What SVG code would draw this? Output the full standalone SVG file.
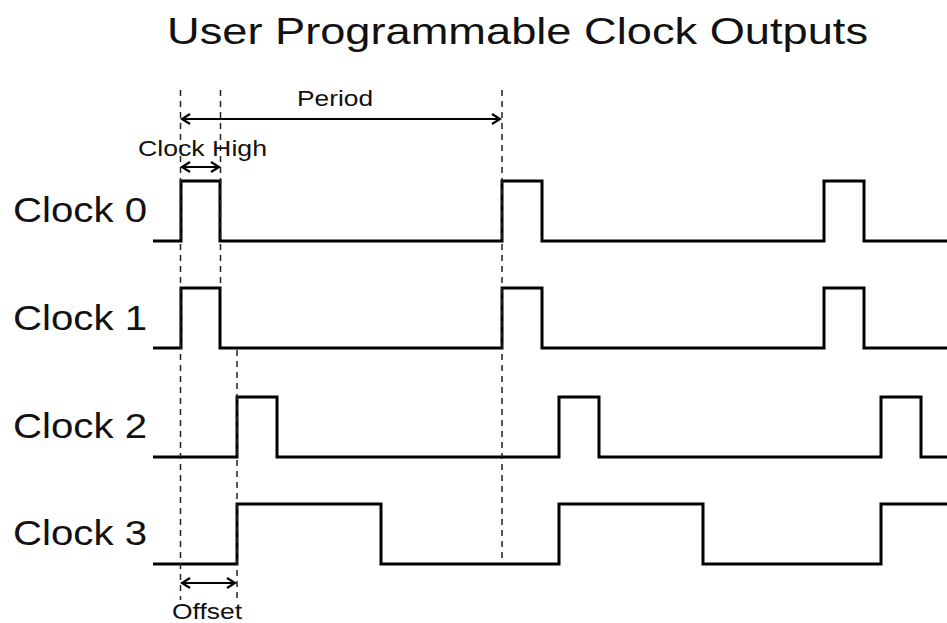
<svg xmlns="http://www.w3.org/2000/svg" width="947" height="623" viewBox="0 0 947 623">
<style>
text{font-family:"Liberation Sans",Arial,sans-serif;fill:#111}
.wave{fill:none;stroke:#000;stroke-width:3;stroke-linejoin:miter}
.dash{stroke:#222;stroke-width:1.5;stroke-dasharray:6 5;fill:none}
.dim{stroke:#000;stroke-width:2.2;fill:none;marker-start:url(#ah);marker-end:url(#ah)}
.lbl{font-size:35px}
.small{font-size:22px}
</style>
<defs>
<marker id="ah" viewBox="-12 -7 14 14" refX="0" refY="0" markerWidth="14" markerHeight="14" markerUnits="userSpaceOnUse" orient="auto-start-reverse">
<path d="M-8,-5 L0,0 L-8,5" fill="none" stroke="#000" stroke-width="2.2"/>
</marker>
</defs>
<rect width="947" height="623" fill="#fff"/>
<text id="title" x="167" y="44" font-size="37" textLength="701" lengthAdjust="spacingAndGlyphs">User Programmable Clock Outputs</text>
<g id="clock0">
<text class="lbl" x="13" y="222" textLength="134" lengthAdjust="spacingAndGlyphs">Clock 0</text>
<path class="wave" d="M153,241 H181 V181 H220 V241 H502 V181 H542 V241 H824 V181 H864 V241 H947"/>
</g>
<g id="clock1">
<text class="lbl" x="13" y="330" textLength="134" lengthAdjust="spacingAndGlyphs">Clock 1</text>
<path class="wave" d="M153,348 H181 V288 H220 V348 H502 V288 H542 V348 H824 V288 H864 V348 H947"/>
</g>
<g id="clock2">
<text class="lbl" x="13" y="438" textLength="134" lengthAdjust="spacingAndGlyphs">Clock 2</text>
<path class="wave" d="M153,457 H237 V397 H277 V457 H559 V397 H599 V457 H881 V397 H921 V457 H947"/>
</g>
<g id="clock3">
<text class="lbl" x="13" y="545" textLength="134" lengthAdjust="spacingAndGlyphs">Clock 3</text>
<path class="wave" d="M153,564 H237 V504 H381 V564 H559 V504 H703 V564 H881 V504 H947"/>
</g>
<g id="connectors">
<line class="dash" x1="180.5" y1="90" x2="180.5" y2="600"/>
<line class="dash" x1="220.5" y1="90" x2="220.5" y2="288"/>
<line class="dash" x1="237" y1="350" x2="237" y2="600"/>
<line class="dash" x1="502" y1="90" x2="502" y2="562"/>
<line class="dim" x1="182" y1="119" x2="500" y2="119"/>
<line class="dim" x1="182" y1="167" x2="219" y2="167"/>
<line class="dim" x1="182" y1="583" x2="235" y2="583"/>
</g>
<g id="labels">
<text class="small" x="297" y="106" textLength="76" lengthAdjust="spacingAndGlyphs">Period</text>
<text class="small" x="138" y="156" textLength="129" lengthAdjust="spacingAndGlyphs">Clock High</text>
<text class="small" x="172" y="619" textLength="70" lengthAdjust="spacingAndGlyphs">Offset</text>
</g>
</svg>
